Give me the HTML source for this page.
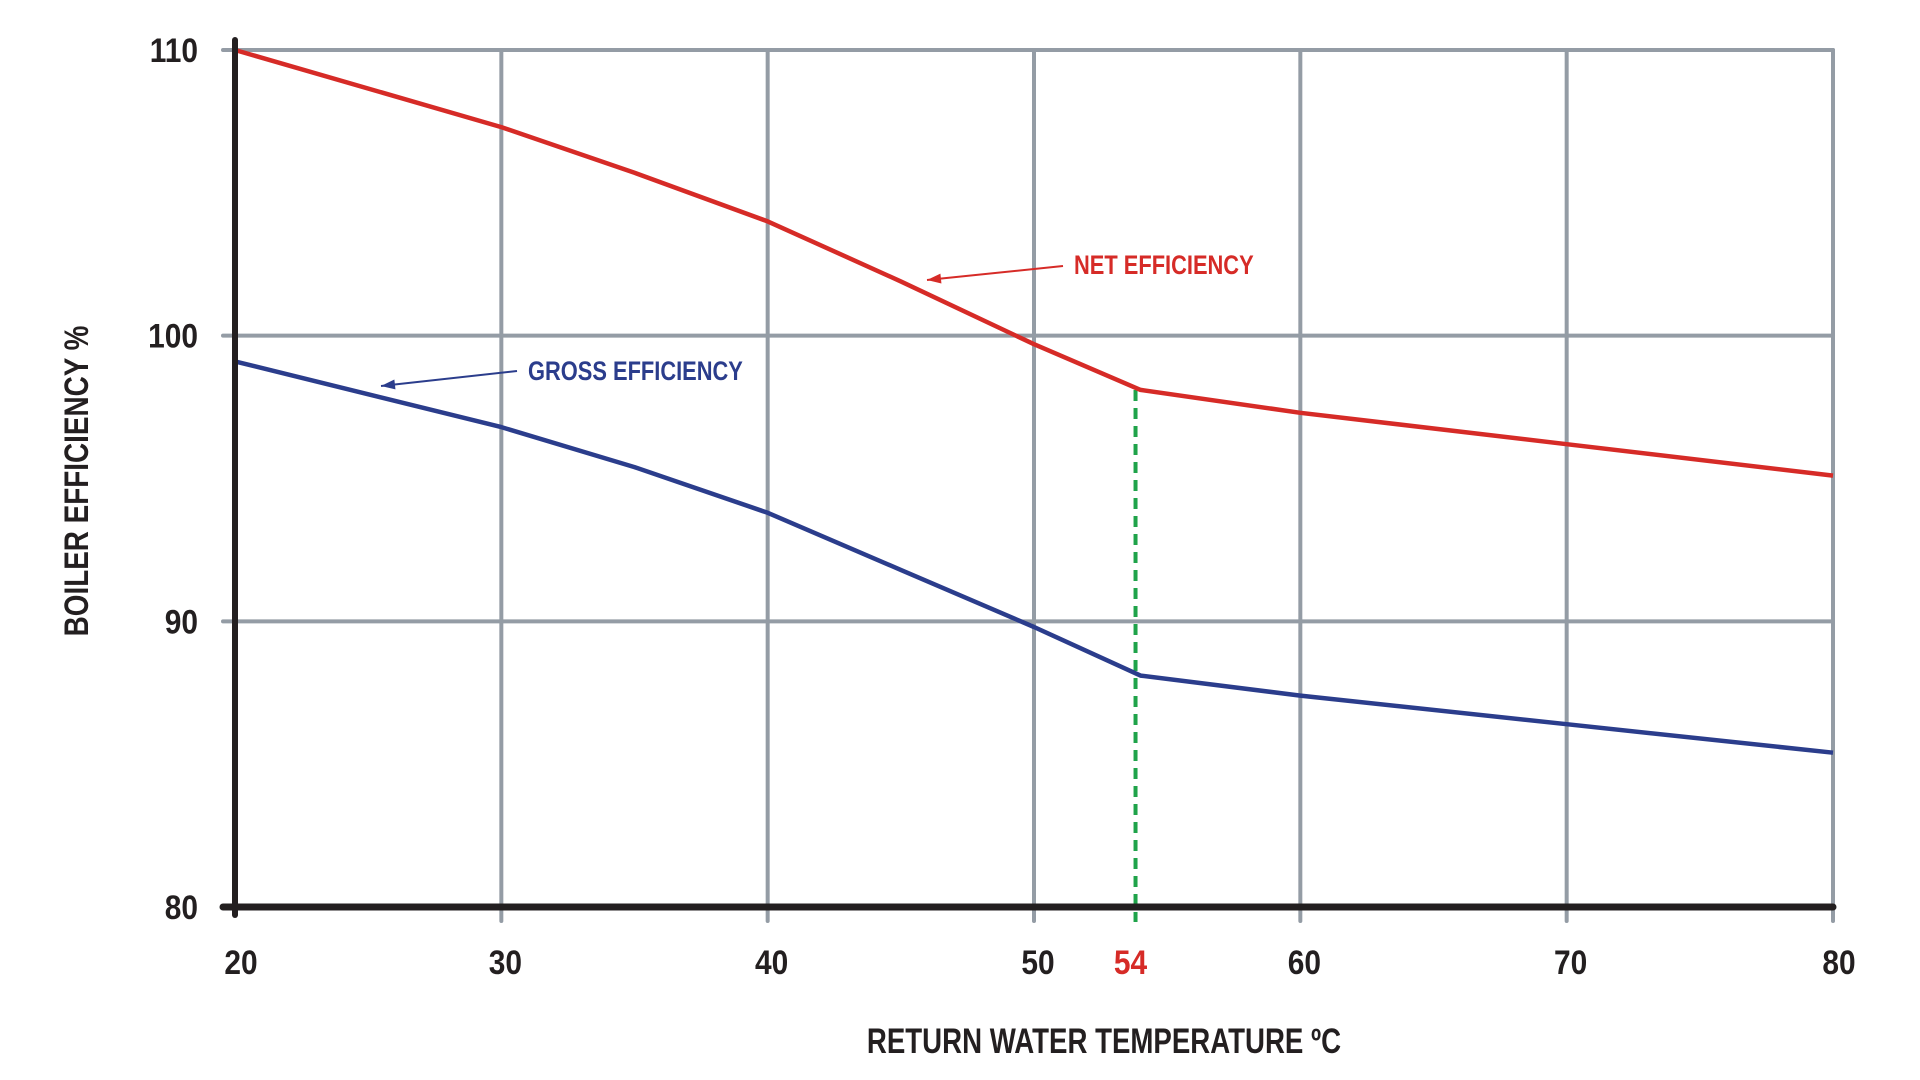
<!DOCTYPE html>
<html><head><meta charset="utf-8"><style>
html,body{margin:0;padding:0;background:#fff;width:1920px;height:1080px;overflow:hidden}
svg text{font-family:"Liberation Sans Narrow","Liberation Sans",sans-serif;font-weight:bold}
</style></head><body>
<svg id="chart" width="1920" height="1080" viewBox="0 0 1920 1080" xmlns="http://www.w3.org/2000/svg">
<g id="grid"></g>
<g id="series"></g>
<g id="axes"></g>
<text transform="translate(88,481) rotate(-90) scale(0.82,1)" text-anchor="middle" font-size="34" fill="#231f20">BOILER EFFICIENCY %</text>
<text transform="translate(1104,1053) scale(0.79,1)" text-anchor="middle" font-size="35" fill="#231f20">RETURN WATER TEMPERATURE ºC</text>
</svg>
<script>
const xTicks=[20,30,40,50,60,70,80];
const yTicks=[80,90,100,110];
const netX=[20,30,35,40,45,50,54,60,70,80];
const netY=[110,107.3,105.7,104,101.9,99.7,98.1,97.3,96.2,95.1];
const grossX=[20,30,35,40,45,50,54,60,70,80];
const grossY=[99.1,96.8,95.4,93.8,91.8,89.8,88.1,87.4,86.4,85.4];
const markerX=54;
const markerY=98.1;

const NS="http://www.w3.org/2000/svg";
const X0=235,X1=1833,Y0=907,Y1=50;
const sx=v=>X0+(v-20)/(80-20)*(X1-X0);
const sy=v=>Y0-(v-80)/(110-80)*(Y0-Y1);
function mk(tag,attrs,parent){const e=document.createElementNS(NS,tag);for(const k in attrs)e.setAttribute(k,attrs[k]);parent.appendChild(e);return e;}
const grid=document.getElementById('grid'),axes=document.getElementById('axes'),series=document.getElementById('series'),svg=document.getElementById('chart');

xTicks.forEach(v=>{
  if(v===20)return;
  const l=mk('line',{x1:sx(v),x2:sx(v),y1:sy(110),y2:sy(80)+14,stroke:'#949ca5','stroke-width':4,'stroke-linecap':'round'},grid);
  
  
});
yTicks.forEach(v=>{
  if(v===80)return;
  const l=mk('line',{x1:X0-12,x2:sx(80),y1:sy(v),y2:sy(v),stroke:'#949ca5','stroke-width':4,'stroke-linecap':'round'},grid);
  
  
});

const dash=mk('line',{x1:sx(markerX)-5,x2:sx(markerX)-5,y1:sy(markerY),y2:sy(80)+15,stroke:'#1fa34a','stroke-width':4,'stroke-dasharray':'11,7'},series);



function path(xs,ys){let d='';xs.forEach((x,i)=>{d+=(i?'L':'M')+sx(x).toFixed(1)+','+sy(ys[i]).toFixed(1);});return d;}
const net=mk('path',{d:path(netX,netY),fill:'none',stroke:'#d62b27','stroke-width':4.5,'stroke-linejoin':'round'},series);


const gross=mk('path',{d:path(grossX,grossY),fill:'none',stroke:'#2b3d8c','stroke-width':4.5,'stroke-linejoin':'round'},series);



const ya=mk('line',{x1:X0,x2:X0,y1:40,y2:Y0+8,stroke:'#231f20','stroke-width':6,'stroke-linecap':'round'},axes);


const xa=mk('line',{x1:X0-12,x2:X1,y1:Y0,y2:Y0,stroke:'#231f20','stroke-width':7,'stroke-linecap':'round'},axes);



yTicks.forEach(v=>{
  const t=mk('text',{transform:`translate(198,${sy(v)+12}) scale(0.88,1)`,'text-anchor':'end','font-size':34,fill:'#231f20'},axes);
  t.textContent=v;
  
  
});
xTicks.forEach(v=>{
  const t=mk('text',{transform:`translate(${sx(v)+(v===20?6:v===80?6:4)},974) scale(0.88,1)`,'text-anchor':'middle','font-size':34,fill:'#231f20'},axes);
  t.textContent=v;
  
  
});
const m=mk('text',{transform:`translate(${sx(markerX)-10},974) scale(0.88,1)`,'text-anchor':'middle','font-size':34,fill:'#d62b27'},axes);
m.textContent=markerX;



function ann(name,x1,y1,x2,y2,col,tx,ty,label){
  const g=mk('g',{},svg);
  
  
  mk('line',{x1:x1,y1:y1,x2:x2,y2:y2,stroke:col,'stroke-width':2},g);
  const a=Math.atan2(y2-y1,x2-x1),L=14,W=5;
  const p1=[x2-L*Math.cos(a)+W*Math.sin(a),y2-L*Math.sin(a)-W*Math.cos(a)];
  const p2=[x2-L*Math.cos(a)-W*Math.sin(a),y2-L*Math.sin(a)+W*Math.cos(a)];
  mk('polygon',{points:`${x2},${y2} ${p1} ${p2}`,fill:col},g);
  const t=mk('text',{transform:`translate(${tx},${ty}) scale(0.81,1)`,'font-size':27,fill:col},g);
  t.textContent=label;
}
ann('net-efficiency-label',1063,266,927,280,'#d62b27',1074,274,'NET EFFICIENCY');
ann('gross-efficiency-label',517,371,381,386,'#2b3d8c',528,380,'GROSS EFFICIENCY');
</script>
</body></html>
